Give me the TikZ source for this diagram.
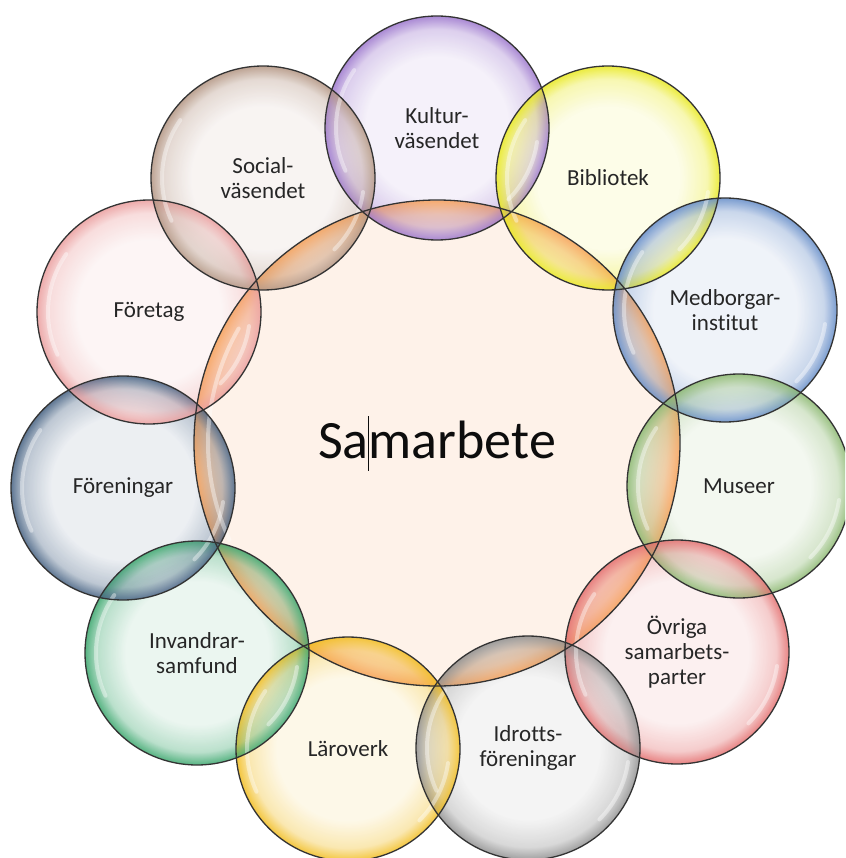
\documentclass[tikz,border=0pt]{standalone}
\usepackage{fontspec}
\setmainfont{Carlito}[Ligatures=NoCommon]
\usetikzlibrary{fadings}
\pgfdeclareradialshading{ringmask}{\pgfpointorigin}{color(0bp)=(pgftransparent!100); color(16bp)=(pgftransparent!100); color(22bp)=(pgftransparent!70); color(25bp)=(pgftransparent!5); color(50bp)=(pgftransparent!5)}
\pgfdeclarefading{ringfade}{\pgfuseshading{ringmask}}
\pgfdeclareradialshading{bigringmask}{\pgfpointorigin}{color(0bp)=(pgftransparent!100); color(20.5bp)=(pgftransparent!100); color(23.5bp)=(pgftransparent!50); color(25bp)=(pgftransparent!0); color(50bp)=(pgftransparent!0)}
\pgfdeclarefading{bigringfade}{\pgfuseshading{bigringmask}}
\definecolor{mitt}{HTML}{F79646}
\definecolor{kultur}{HTML}{8E63C6}
\definecolor{bibliotek}{HTML}{E6E600}
\definecolor{medborgar}{HTML}{4F7CC0}
\definecolor{museer}{HTML}{7BAE5C}
\definecolor{ovriga}{HTML}{E05A5A}
\definecolor{idrott}{HTML}{808080}
\definecolor{laroverk}{HTML}{F0B400}
\definecolor{invandrar}{HTML}{1E9A58}
\definecolor{foreningar}{HTML}{2A4A70}
\definecolor{foretag}{HTML}{E89090}
\definecolor{social}{HTML}{A88570}
\def\bubbles{437/128/kultur/{Kultur-\\väsendet}, 608/178/bibliotek/Bibliotek,
  725/310/medborgar/{Medborgar-\\institut}, 739/486/museer/Museer, 677/652/ovriga/{Övriga\\samarbets-\\parter},
  528/748/idrott/{Idrotts-\\föreningar}, 348/749/laroverk/Läroverk, 197/653/invandrar/{Invandrar-\\samfund},
  123/488/foreningar/Föreningar, 149/312/foretag/Företag, 263/178/social/{Social-\\väsendet}}
\tikzset{
  bubble/.style={circle, inner sep=0pt, minimum size=224pt, align=center,
    font=\fontsize{23}{25}\selectfont, text=black!85,
    fill=#1!12!white, fill opacity=0.75, text opacity=1},
  glow/.style={fill=#1!88!white, path fading=ringfade, fill opacity=0.9},
  shine/.style={draw=white, line width=4pt, line cap=round, opacity=0.4},
  rim/.style={draw=black!80, line width=1.3pt}
}
\begin{document}
\begin{tikzpicture}[x=1pt,y=-1pt]
    \useasboundingbox (0,0) rectangle (845,858);
    \clip (0,0) rectangle (845,858);
    % middle circle
    \node[bubble=mitt, fill opacity=1, minimum size=486pt,
      font=\fontsize{54}{60}\selectfont, text=black!95] (mitt) at (437,443)
      {Sa\makebox[0pt]{\rule[-12pt]{0.7pt}{55pt}}marbete};
    % outer circles, clockwise from the top
    \foreach \x/\y/\c/\t [count=\i] in \bubbles {\node[bubble=\c] (b\i) at (\x,\y) {\t};};
    % coloured rims, highlights and outlines on top
    \begin{scope}
      \clip foreach \i in {1,...,11}{(b\i.center) circle (112)};
      \fill[glow=mitt, path fading=bigringfade] (mitt.center) circle (243);
    \end{scope}
    \foreach \x/\y/\c/\t [count=\i] in \bubbles {\fill[glow=\c] (b\i.center) circle (112);};
    \draw[shine] (mitt.center) ++(-150:229) arc[start angle=-150, end angle=-205, radius=229];
    \foreach \i in {1,...,11}{
      \draw[shine] (b\i.center) ++(-145:101) arc[start angle=-145, end angle=-205, radius=101];
      \draw[shine] (b\i.center) ++(8:101) arc[start angle=8, end angle=45, radius=101];};
    \draw[rim] (mitt.center) circle (243);
    \foreach \i in {1,...,11}{\draw[rim] (b\i.center) circle (112);};
  \end{tikzpicture}
\end{document}
